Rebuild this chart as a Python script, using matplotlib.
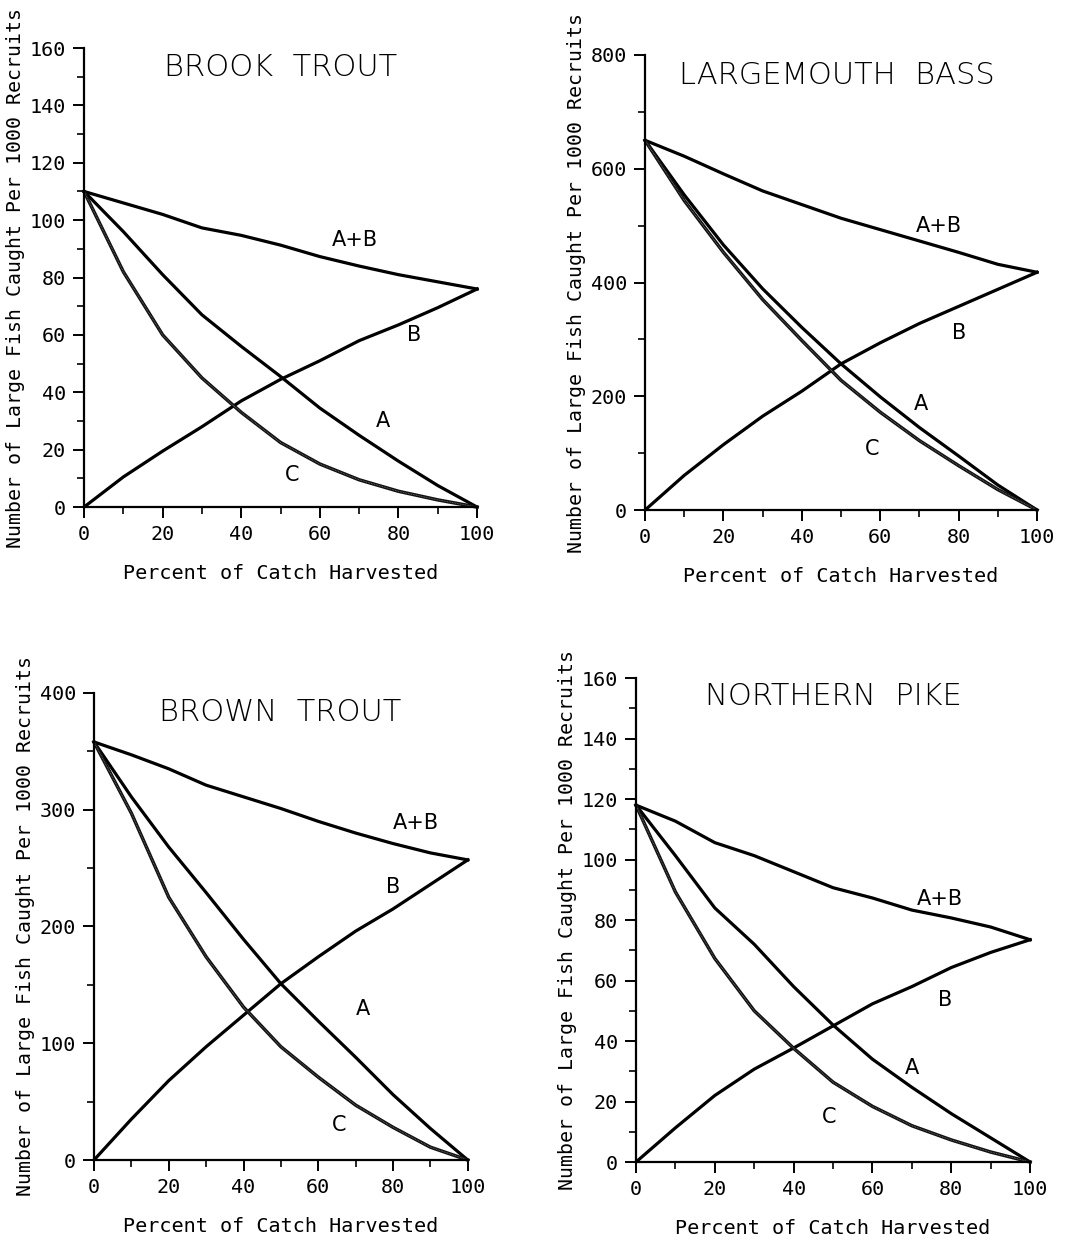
import numpy as np
import matplotlib
matplotlib.use("Agg")
import matplotlib.pyplot as plt
from matplotlib.ticker import MultipleLocator

# percent of catch harvested
pct = [0, 10, 20, 30, 40, 50, 60, 70, 80, 90, 100]

# brook trout
brook_ab = [110, 106, 102, 97.3, 94.7, 91.3, 87.3, 84, 81, 78.5, 76]
brook_a = [110, 96, 81, 67, 56, 45.5, 34.5, 25, 16, 7.5, 0]
brook_b = [0, 10.5, 19.5, 28, 37, 44.5, 51, 58, 63.5, 69.5, 76]
brook_c = [110, 82, 60, 45, 33, 22.5, 15, 9.5, 5.5, 2.5, 0]

# largemouth bass
bass_ab = [650, 622, 591, 561, 537, 513, 493, 473, 453, 432, 418]
bass_a = [650, 554, 466, 389, 321, 257, 199, 145, 95, 44, 0]
bass_b = [0, 61, 115, 165, 209, 257, 294, 328, 358, 388, 418]
bass_c = [650, 544, 453, 370, 298, 228, 172, 122, 78, 36, 0]

# brown trout
brown_ab = [358, 347, 335, 321, 311, 301, 290, 280, 271, 263, 257]
brown_a = [358, 311, 268, 229, 189, 151, 119, 88, 56, 27, 0]
brown_b = [0, 35, 68, 97, 124, 151, 174, 196, 215, 236, 257]
brown_c = [358, 297, 225, 174, 131, 97, 71, 47, 28, 11, 0]

# northern pike
pike_ab = [118, 112.7, 105.6, 101.3, 96, 90.7, 87.3, 83.3, 80.7, 77.7, 73.5]
pike_a = [118, 101.3, 84, 72, 58, 45.3, 34, 24.7, 16, 8, 0]
pike_b = [0, 11.3, 22, 30.7, 37.7, 45, 52.3, 58, 64.3, 69.3, 73.5]
pike_c = [118, 89.3, 67.3, 50, 37.6, 26.4, 18.4, 12, 7.3, 3.3, 0]

panels = [
    ("BROOK  TROUT", brook_ab, brook_a, brook_b, brook_c, 160, 20, 10,
     [0.0787, 0.5924, 0.3680, 0.3690], (0.50, 0.958),
     {"A+B": (69, 93), "B": (84, 60), "A": (76, 30), "C": (53, 11)}),
    ("LARGEMOUTH  BASS", bass_ab, bass_a, bass_b, bass_c, 800, 200, 100,
     [0.6040, 0.5900, 0.3670, 0.3658], (0.49, 0.956),
     {"A+B": (75, 500), "B": (80, 311), "A": (70.5, 186), "C": (58, 107)}),
    ("BROWN  TROUT", brown_ab, brown_a, brown_b, brown_c, 400, 100, 50,
     [0.0880, 0.0675, 0.3500, 0.3755], (0.497, 0.959),
     {"A+B": (86, 289), "B": (80, 234), "A": (72, 129), "C": (65.5, 30)}),
    ("NORTHERN  PIKE", pike_ab, pike_a, pike_b, pike_c, 160, 20, 10,
     [0.5955, 0.0659, 0.3690, 0.3890], (0.50, 0.961),
     {"A+B": (77, 87), "B": (78.5, 53.5), "A": (70, 31), "C": (49, 15)}),
]

mono = "DejaVu Sans Mono"

fig = plt.figure(figsize=(10.68, 12.44), dpi=100)

for title, ab, a, b, c, ymax, ymaj, ymin, pos, tpos, labs in panels:
    ax = fig.add_axes(pos)
    for yy in (ab, a, b):
        ax.plot(pct, yy, color="black", lw=2.3, clip_on=False)
    ax.plot(pct, c, color="#111111", lw=2.5, clip_on=False)
    ax.plot(pct, c, color="#777777", lw=0.6, ls=(0, (1, 1)), clip_on=False)

    ax.set_xlim(0, 100)
    ax.set_ylim(0, ymax)
    ax.xaxis.set_major_locator(MultipleLocator(20))
    ax.xaxis.set_minor_locator(MultipleLocator(10))
    ax.yaxis.set_major_locator(MultipleLocator(ymaj))
    ax.yaxis.set_minor_locator(MultipleLocator(ymin))
    for s in ("top", "right"):
        ax.spines[s].set_visible(False)
    for s in ("left", "bottom"):
        ax.spines[s].set_linewidth(1.6)
    ax.tick_params(which="major", direction="out", length=8, width=1.4,
                   labelsize=14.5, pad=5)
    ax.tick_params(which="minor", direction="out", length=5, width=1.2)
    for lbl in ax.get_xticklabels() + ax.get_yticklabels():
        lbl.set_family(mono)

    ax.set_xlabel("Percent of Catch Harvested", family=mono, fontsize=14.5,
                  labelpad=14)
    ax.set_ylabel("Number of Large Fish Caught Per 1000 Recruits",
                  family=mono, fontsize=14.3, labelpad=3)

    ax.text(tpos[0], tpos[1], title, transform=ax.transAxes, ha="center",
            va="center", fontsize=22, fontweight="light", family="DejaVu Sans")
    for k, (lx, ly) in labs.items():
        ax.text(lx, ly, k, ha="center", va="center", fontsize=15,
                family="DejaVu Sans")

fig.savefig("out.png", dpi=100)
